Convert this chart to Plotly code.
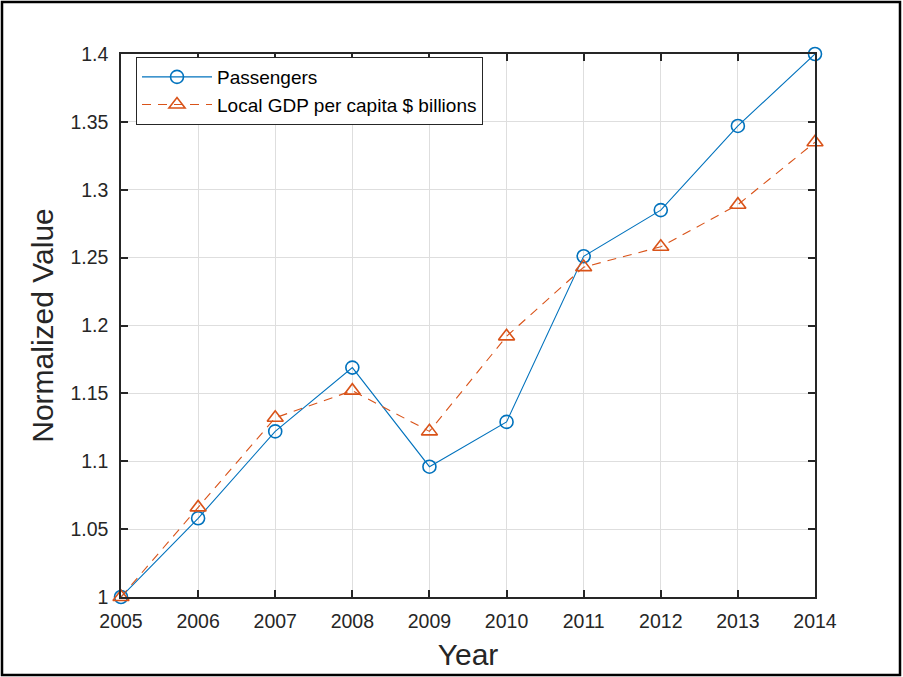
import plotly.graph_objects as go

years = [2005, 2006, 2007, 2008, 2009, 2010, 2011, 2012, 2013, 2014]
passengers = [1.0, 1.058, 1.122, 1.169, 1.096, 1.129, 1.251, 1.285, 1.347, 1.4]
gdp_per_capita = [1.0, 1.066, 1.132, 1.152, 1.122, 1.192, 1.243, 1.258, 1.289, 1.335]
y_ticks = [1.0, 1.05, 1.1, 1.15, 1.2, 1.25, 1.3, 1.35, 1.4]
y_tick_labels = ["1", "1.05", "1.1", "1.15", "1.2", "1.25", "1.3", "1.35", "1.4"]

BLUE = "#0072BD"
ORANGE = "#D95319"
AXIS = "#262626"
FONT = "Liberation Sans, Arial, sans-serif"

fig = go.Figure()
fig.add_trace(go.Scatter(
    x=years, y=passengers, name="Passengers", mode="lines+markers",
    line=dict(color=BLUE, width=1.1),
    marker=dict(symbol="circle-open", size=13, color=BLUE, line=dict(width=1.6)),
    cliponaxis=False,
))
fig.add_trace(go.Scatter(
    x=years, y=gdp_per_capita, name="Local GDP per capita $ billions", mode="lines+markers",
    line=dict(color=ORANGE, width=1.1, dash="9px,7px"),
    marker=dict(symbol="triangle-up-open", size=14, color=ORANGE, line=dict(width=1.6)),
    cliponaxis=False,
))

W, H = 903, 677
L, R, T, B = 121, 88, 54, 80
pw, ph = W - L - R, H - T - B

axis_common = dict(
    showline=True, linecolor=AXIS, linewidth=1.5, mirror="ticks",
    ticks="inside", ticklen=7, tickwidth=1.5, tickcolor=AXIS,
    showgrid=True, gridcolor="#dedede", gridwidth=1, automargin=False,
    zeroline=False, tickfont=dict(family=FONT, size=19.5, color=AXIS),
)

fig.update_layout(
    width=W, height=H,
    margin=dict(l=L, r=R, t=T, b=B),
    paper_bgcolor="white", plot_bgcolor="white",
    font=dict(family=FONT, color=AXIS),
    xaxis=dict(
        **axis_common, range=[2005, 2014], tickvals=years, ticklabelstandoff=6,
        title=dict(text="Year", font=dict(family=FONT, size=30, color=AXIS), standoff=13),
    ),
    yaxis=dict(
        **axis_common, range=[1.0, 1.4], tickvals=y_ticks, ticktext=y_tick_labels,
        ticklabelstandoff=7,
        title=dict(text="Normalized Value", font=dict(family=FONT, size=30, color=AXIS), standoff=8),
    ),
    legend=dict(
        x=(136 - L) / pw, y=1 - (57 - T) / ph, xanchor="left", yanchor="top",
        bgcolor="white", bordercolor=AXIS, borderwidth=1,
        font=dict(family=FONT, size=19, color="black"),
        itemwidth=70, tracegroupgap=0,
    ),
    showlegend=True,
)

# outer frame around the whole figure
fig.add_shape(
    type="rect", xref="paper", yref="paper",
    x0=(2 - L) / pw, x1=(900 - L) / pw,
    y0=(T + ph - 675) / ph, y1=(T + ph - 2) / ph,
    line=dict(color="black", width=2.5), fillcolor="rgba(0,0,0,0)", layer="below",
)

fig.write_html("out.html")
